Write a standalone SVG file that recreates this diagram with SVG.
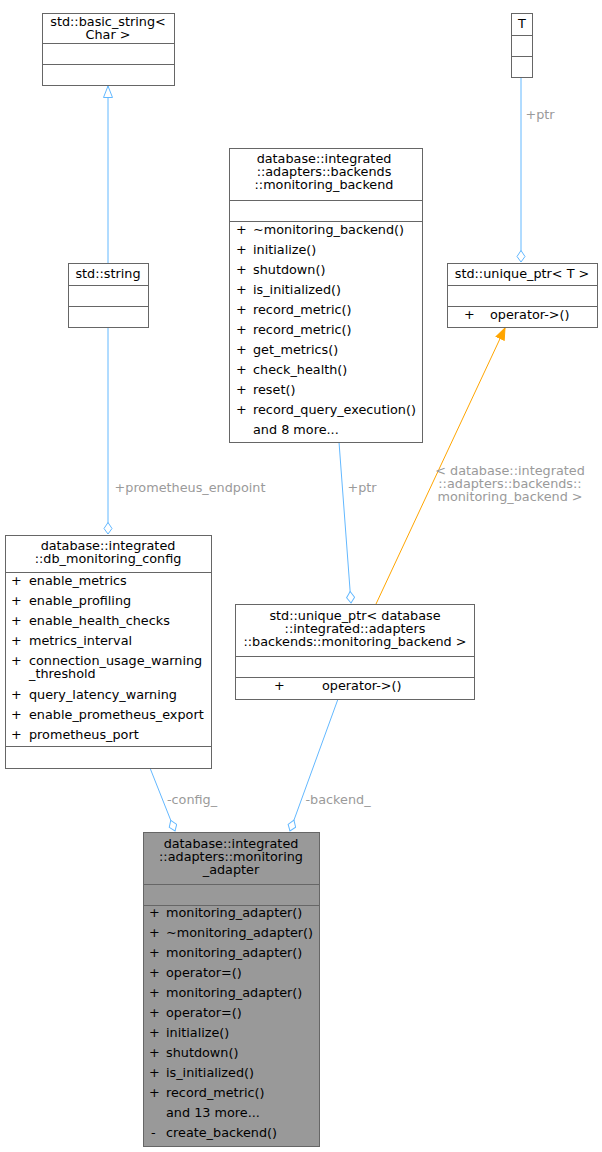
<svg xmlns="http://www.w3.org/2000/svg" width="602" height="1152" viewBox="0 0 602 1152">
<style>
text{font-family:"DejaVu Sans",sans-serif;font-size:12.8px;fill:#000}
.c{text-anchor:middle}
.b{fill:#fff;stroke:#666;stroke-width:1}
.l{stroke:#666;stroke-width:1}
.e{fill:none;stroke:#63b8ff;stroke-width:1}
.o{fill:none;stroke:#ffa500;stroke-width:1}
.lb{fill:#9a9a9a}
</style>
<defs>
<marker id="dia" markerWidth="14" markerHeight="10" refX="12" refY="4.5" orient="auto" markerUnits="userSpaceOnUse"><path d="M0.5,4.5 L6.5,0.5 L12,4.5 L6.5,8.5 z" fill="#fff" stroke="#63b8ff"/></marker>
<marker id="tri" markerWidth="14" markerHeight="12" refX="12" refY="5" orient="auto" markerUnits="userSpaceOnUse"><path d="M0.5,0.5 L12,5 L0.5,9.5 z" fill="#fff" stroke="#63b8ff"/></marker>
<marker id="trio" markerWidth="14" markerHeight="12" refX="12" refY="5" orient="auto" markerUnits="userSpaceOnUse"><path d="M0.5,0.5 L12,5 L0.5,9.5 z" fill="#ffa500" stroke="#ffa500"/></marker>
</defs>
<g id="connectors">
<path class="e" d="M108,263 L108,86" marker-end="url(#tri)"/>
<path class="e" d="M521,77 L521,262" marker-end="url(#dia)"/>
<text class="lb" x="540" y="119" text-anchor="middle">+ptr</text>
<path class="e" d="M108,327 L108,534" marker-end="url(#dia)"/>
<text class="lb" x="190" y="492" text-anchor="middle">+prometheus_endpoint</text>
<path class="e" d="M339,442 L351,603" marker-end="url(#dia)"/>
<text class="lb" x="362" y="492" text-anchor="middle">+ptr</text>
<path class="o" d="M376,604 L505,328" marker-end="url(#trio)"/>
<text class="lb" x="510" y="475" text-anchor="middle">&lt; database::integrated</text>
<text class="lb" x="510" y="488" text-anchor="middle">::adapters::backends::</text>
<text class="lb" x="510" y="501" text-anchor="middle">monitoring_backend &gt;</text>
<path class="e" d="M150,768 L175,831" marker-end="url(#dia)"/>
<text class="lb" x="192" y="804" text-anchor="middle">-config_</text>
<path class="e" d="M338,699 L290,831" marker-end="url(#dia)"/>
<text class="lb" x="338" y="804" text-anchor="middle">-backend_</text>
</g>
<g id="basic_string">
<rect class="b" x="42.5" y="13.5" width="132" height="72"/>
<text class="c" x="108" y="26">std::basic_string&lt;</text>
<text class="c" x="108" y="39">Char &gt;</text>
<path class="l" d="M42.5,43.5H174.5M42.5,64.5H174.5"/>
</g>
<g id="string">
<rect class="b" x="68.5" y="263.5" width="80" height="64"/>
<text class="c" x="108" y="278">std::string</text>
<path class="l" d="M68.5,285.5H148.5M68.5,306.5H148.5"/>
</g>
<g id="T">
<rect class="b" x="511.5" y="13.5" width="21" height="64"/>
<text class="c" x="522" y="28">T</text>
<path class="l" d="M511.5,35.5H532.5M511.5,56.5H532.5"/>
</g>
<g id="monitoring_backend">
<rect class="b" x="229.5" y="148.5" width="193" height="294"/>
<text class="c" x="324" y="163">database::integrated</text>
<text class="c" x="324" y="176">::adapters::backends</text>
<text class="c" x="324" y="189">::monitoring_backend</text>
<path class="l" d="M229.5,200.5H422.5M229.5,221.5H422.5"/>
<text x="236" y="234">+</text><text x="253" y="234">~monitoring_backend()</text>
<text x="236" y="254">+</text><text x="253" y="254">initialize()</text>
<text x="236" y="274">+</text><text x="253" y="274">shutdown()</text>
<text x="236" y="294">+</text><text x="253" y="294">is_initialized()</text>
<text x="236" y="314">+</text><text x="253" y="314">record_metric()</text>
<text x="236" y="334">+</text><text x="253" y="334">record_metric()</text>
<text x="236" y="354">+</text><text x="253" y="354">get_metrics()</text>
<text x="236" y="374">+</text><text x="253" y="374">check_health()</text>
<text x="236" y="394">+</text><text x="253" y="394">reset()</text>
<text x="236" y="414">+</text><text x="253" y="414">record_query_execution()</text>
<text x="253" y="434">and 8 more...</text>
</g>
<g id="unique_ptr_T">
<rect class="b" x="447.5" y="263.5" width="150" height="64"/>
<text class="c" x="522" y="278">std::unique_ptr&lt; T &gt;</text>
<path class="l" d="M447.5,285.5H597.5M447.5,306.5H597.5"/>
<text x="464" y="319">+</text><text x="490" y="319">operator-&gt;()</text>
</g>
<g id="db_monitoring_config">
<rect class="b" x="5.5" y="535.5" width="206" height="233"/>
<text class="c" x="108" y="550">database::integrated</text>
<text class="c" x="108" y="563">::db_monitoring_config</text>
<path class="l" d="M5.5,572.5H211.5M5.5,746.5H211.5"/>
<text x="11" y="585">+</text><text x="29" y="585">enable_metrics</text>
<text x="11" y="605">+</text><text x="29" y="605">enable_profiling</text>
<text x="11" y="625">+</text><text x="29" y="625">enable_health_checks</text>
<text x="11" y="645">+</text><text x="29" y="645">metrics_interval</text>
<text x="11" y="665">+</text><text x="29" y="665">connection_usage_warning</text>
<text x="29" y="678">_threshold</text>
<text x="11" y="699">+</text><text x="29" y="699">query_latency_warning</text>
<text x="11" y="719">+</text><text x="29" y="719">enable_prometheus_export</text>
<text x="11" y="739">+</text><text x="29" y="739">prometheus_port</text>
</g>
<g id="unique_ptr_backend">
<rect class="b" x="235.5" y="604.5" width="239" height="95"/>
<text class="c" x="355" y="620">std::unique_ptr&lt; database</text>
<text class="c" x="355" y="633">::integrated::adapters</text>
<text class="c" x="355" y="646">::backends::monitoring_backend &gt;</text>
<path class="l" d="M235.5,656.5H474.5M235.5,677.5H474.5"/>
<text x="274" y="690">+</text><text x="322" y="690">operator-&gt;()</text>
</g>
<g id="monitoring_adapter">
<rect x="143.5" y="832.5" width="176" height="314" fill="#999" stroke="#666"/>
<text class="c" x="231" y="848">database::integrated</text>
<text class="c" x="231" y="861">::adapters::monitoring</text>
<text class="c" x="231" y="874">_adapter</text>
<path class="l" d="M143.5,884.5H319.5M143.5,905.5H319.5"/>
<text x="149" y="917">+</text><text x="166" y="917">monitoring_adapter()</text>
<text x="149" y="937">+</text><text x="166" y="937">~monitoring_adapter()</text>
<text x="149" y="957">+</text><text x="166" y="957">monitoring_adapter()</text>
<text x="149" y="977">+</text><text x="166" y="977">operator=()</text>
<text x="149" y="997">+</text><text x="166" y="997">monitoring_adapter()</text>
<text x="149" y="1017">+</text><text x="166" y="1017">operator=()</text>
<text x="149" y="1037">+</text><text x="166" y="1037">initialize()</text>
<text x="149" y="1057">+</text><text x="166" y="1057">shutdown()</text>
<text x="149" y="1077">+</text><text x="166" y="1077">is_initialized()</text>
<text x="149" y="1097">+</text><text x="166" y="1097">record_metric()</text>
<text x="166" y="1117">and 13 more...</text>
<text x="151" y="1137">-</text><text x="166" y="1137">create_backend()</text>
</g>
</svg>
